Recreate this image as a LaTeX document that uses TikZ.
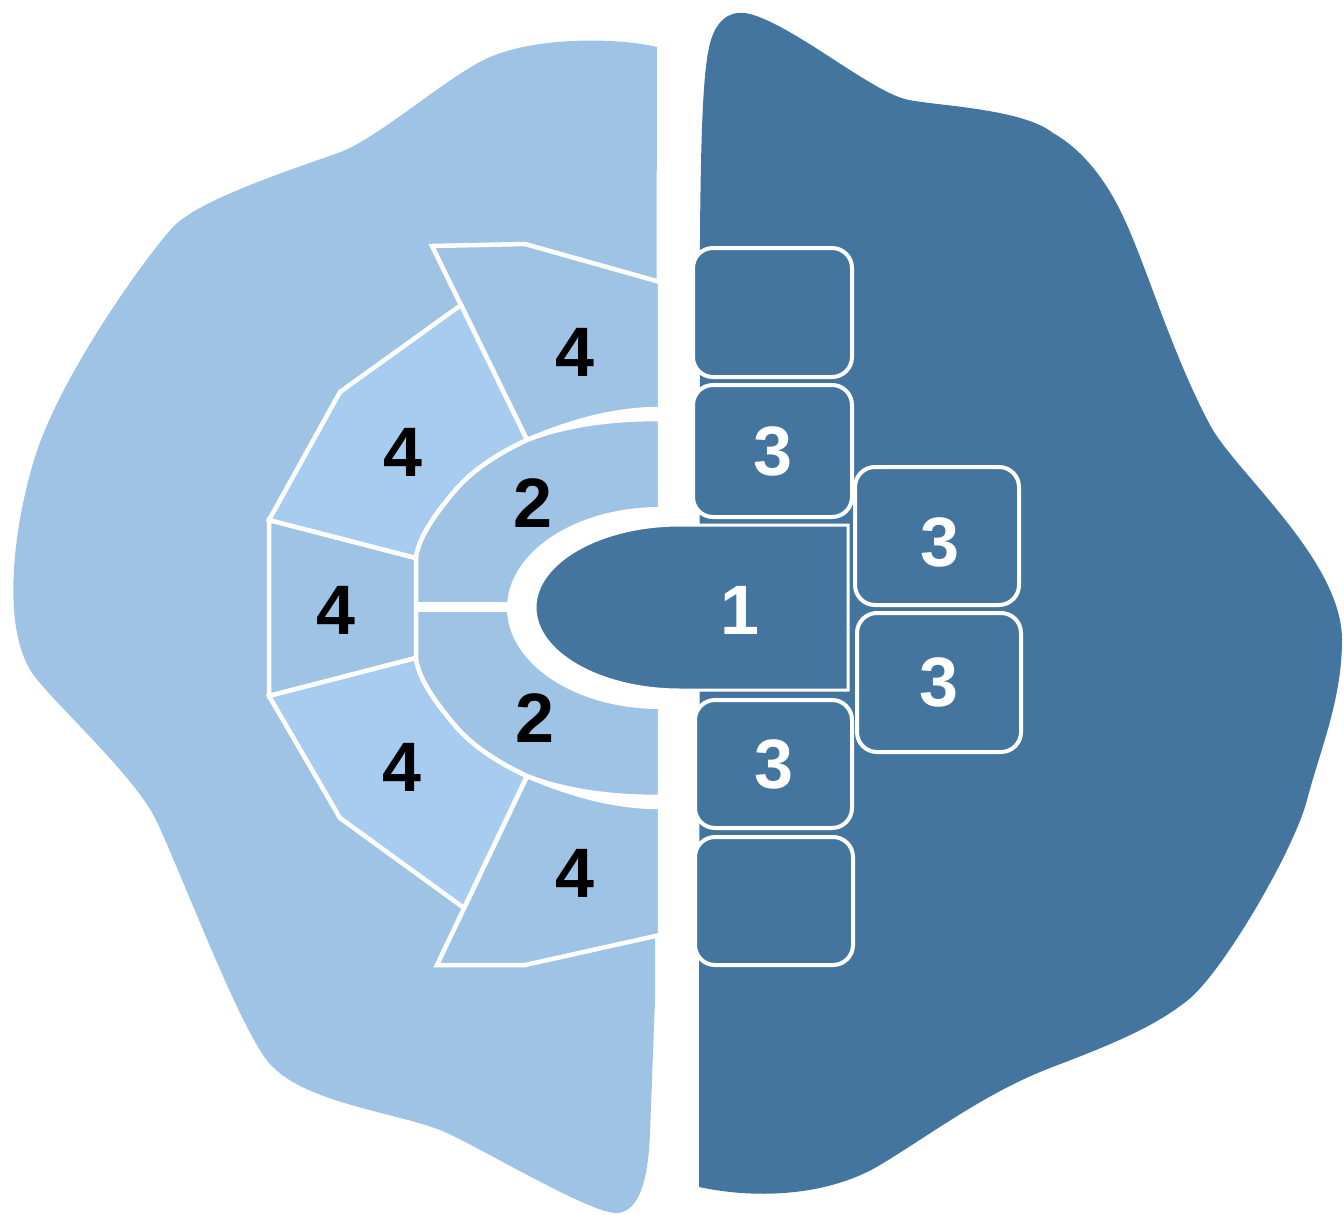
\documentclass[tikz,border=0pt]{standalone}
\usepackage{fontspec}
\setmainfont{Liberation Sans}
\definecolor{lobeLight}{RGB}{159,195,229}
\definecolor{segLight}{RGB}{168,204,239}
\definecolor{lobeDark}{RGB}{67,117,159}
\tikzset{
  seg/.style={fill=#1, draw=white, line width=4.5pt, line join=miter},
  band/.style={fill=lobeLight, draw=white, line width=4.5pt},
  tile/.style={fill=lobeDark, draw=white, line width=4pt, rounded corners=20pt,
    inner sep=0pt, text=white, font=\fontsize{70}{70}\selectfont\bfseries},
  darknum/.style={text=black, inner sep=0pt, font=\fontsize{70}{70}\selectfont\bfseries},
  lightnum/.style={text=white, inner sep=0pt, font=\fontsize{70}{70}\selectfont\bfseries},
}
\begin{document}
\begin{tikzpicture}[x=1pt,y=-1pt]
\useasboundingbox (0,0) rectangle (1344,1215);

% left lobe
\fill[lobeLight] (657,47)
  .. controls (620,38) and (540,36) .. (490,57)
  .. controls (450,74) and (378,139) .. (338,153)
  .. controls (293,169) and (198,200) .. (173,227)
  .. controls (143,260) and (60,377) .. (35,457)
  .. controls (13,527) and (0,632) .. (35,677)
  .. controls (62,711) and (136,778) .. (156,820)
  .. controls (184,879) and (245,1043) .. (273,1067)
  .. controls (310,1105) and (407,1114) .. (447,1133)
  .. controls (490,1153) and (590,1213) .. (616,1213)
  .. controls (635,1213) and (648,1190) .. (650,1133)
  -- (655,1000) -- cycle;

% right lobe
\fill[lobeDark] (700,233)
  .. controls (701,130) and (703,60) .. (712,37)
  .. controls (720,15) and (735,10) .. (750,14)
  .. controls (795,26) and (874,94) .. (909,100)
  .. controls (940,106) and (1023,109) .. (1053,133)
  .. controls (1083,150) and (1105,180) .. (1120,210)
  .. controls (1145,260) and (1170,350) .. (1210,425)
  .. controls (1235,472) and (1342,560) .. (1342,640)
  .. controls (1342,700) and (1320,750) .. (1307,800)
  .. controls (1294,850) and (1223,972) .. (1188,1000)
  .. controls (1153,1028) and (1110,1045) .. (1050,1068)
  .. controls (985,1093) and (930,1135) .. (880,1165)
  .. controls (830,1195) and (760,1200) .. (699,1187)
  -- cycle;

% outer ring of segments
\draw[seg=lobeLight] (432,246) -- (525,244) -- (660,282) -- (660,409)
  .. controls (610,409) and (565,424) .. (527,440) -- cycle;
\draw[seg=lobeLight] (527,776) .. controls (565,792) and (610,807) .. (660,807)
  -- (660,935) -- (525,965) -- (437,965) -- cycle;
\draw[seg=lobeLight] (269,520) -- (416,558) -- (416,658) -- (269,696) -- cycle;
\draw[seg=segLight] (461,305) -- (527,440)
  .. controls (495,455) and (470,472) .. (453,493)
  .. controls (432,518) and (418,540) .. (416,558)
  -- (269,520) -- (340,392) -- cycle;
\draw[seg=segLight] (269,696) -- (416,658)
  .. controls (418,676) and (432,698) .. (453,723)
  .. controls (470,744) and (495,761) .. (527,776)
  -- (464,908) -- (340,818) -- cycle;

% white wedges between the ring and the band
\fill[white] (660,409) .. controls (610,409) and (565,424) .. (527,440)
  .. controls (565,425) and (610,419) .. (660,419) -- cycle;
\fill[white] (660,807) .. controls (610,807) and (565,792) .. (527,776)
  .. controls (565,791) and (610,797) .. (660,797) -- cycle;

% inner band
\draw[band] (660,419) .. controls (610,419) and (565,425) .. (527,440)
  .. controls (495,455) and (470,472) .. (453,493)
  .. controls (432,518) and (418,540) .. (416,558)
  -- (416,658)
  .. controls (418,676) and (432,698) .. (453,723)
  .. controls (470,744) and (495,761) .. (527,776)
  .. controls (565,791) and (610,797) .. (660,797) -- cycle;
\fill[white] (695,507) -- (660,507) .. controls (575.5,507) and (507,552.2) .. (507,608)
  .. controls (507,663.8) and (575.5,709) .. (660,709) -- (695,709) -- cycle;
\draw[white, line width=10pt] (414,607) -- (512,607);

% core
\draw[fill=lobeDark, draw=white, line width=3pt] (848,525) -- (680,525)
  .. controls (600,525) and (535,562) .. (535,607.5)
  .. controls (535,653) and (600,690) .. (680,690) -- (848,690) -- cycle;

% tiles
\node[tile, minimum width=159pt, minimum height=129pt] (tileA) at (772.5,312.5) {};
\node[tile, minimum width=159pt, minimum height=132pt] (tileB) at (772.5,451) {3};
\node[tile, minimum width=157pt, minimum height=128pt] (tileC) at (773.5,764) {3};
\node[tile, minimum width=158pt, minimum height=128pt] (tileD) at (774,901) {};
\node[tile, minimum width=164pt, minimum height=138pt] (tileE) at (937,536) {};
\node[tile, minimum width=164pt, minimum height=139pt] (tileF) at (939,682.5) {3};
\node[lightnum] (tileElabel) at (940,542) {3};

% labels
\node[lightnum] (core) at (740,610) {1};
\node[darknum] (bandTop) at (533,503) {2};
\node[darknum] (bandBot) at (535,718) {2};
\node[darknum] (segT) at (575,352) {4};
\node[darknum] (segUL) at (403,452) {4};
\node[darknum] (segM) at (336,610) {4};
\node[darknum] (segLL) at (402,767) {4};
\node[darknum] (segB) at (575,873) {4};
\end{tikzpicture}
\end{document}
